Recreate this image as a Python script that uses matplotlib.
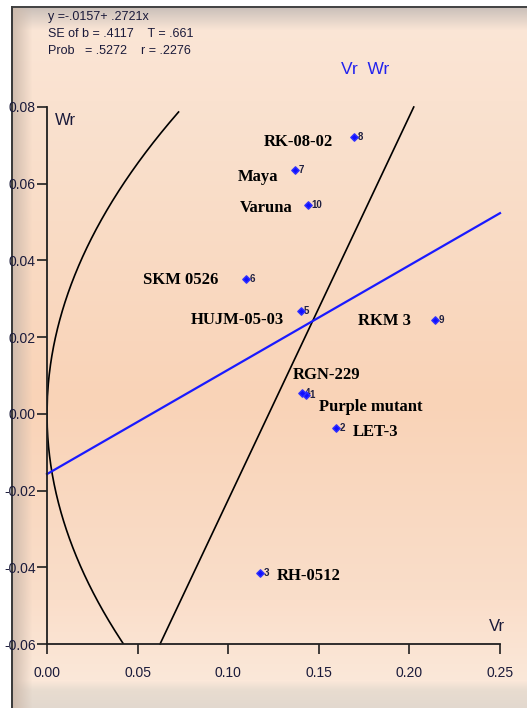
import numpy as np
import matplotlib
matplotlib.use("Agg")
import matplotlib.pyplot as plt

# Vr / Wr values for each parent (array numbers 1..10)
parent_no = [1, 2, 3, 4, 5, 6, 7, 8, 9, 10]
parent_name = ["Purple mutant", "LET-3", "RH-0512", "RGN-229", "HUJM-05-03",
               "SKM 0526", "Maya", "RK-08-02", "RKM 3", "Varuna"]
vr = [0.143, 0.1595, 0.1175, 0.1405, 0.140, 0.110, 0.1369, 0.1694, 0.214, 0.144]
wr = [0.0050, -0.0037, -0.0415, 0.0055, 0.0269, 0.0352, 0.0636, 0.0722, 0.0245, 0.0545]

# regression Wr on Vr
intercept = -0.0157
slope = 0.2721
se_b = 0.4117
t_val = 0.661
prob = 0.5272
r_val = 0.2276

# limiting parabola Wr^2 = Vr * Vp and unit-slope line
vp = 0.0853
line_c = -0.1224

sans = ["Liberation Sans", "DejaVu Sans"]
serif = ["Liberation Serif", "DejaVu Serif"]
ink = "#1a1a3a"

# label placement (offset in points from the point)
name_off = [(9, -9, "left"), (12, -3, "left"), (12, -2, "left"), (-6, 13, "left"),
            (-12, -7, "right"), (-20, -1, "right"), (-12, -5, "right"),
            (-15, -4, "right"), (-17, -1, "right"), (-11, -2, "right")]

W, H = 527, 708
fig = plt.figure(figsize=(W / 100, H / 100), dpi=100)

# panel background
yy = np.arange(H)
keys_y = [0, 100, 400, 600, 680, 690, 708]
keys_c = np.array([(251, 231, 216), (250, 226, 208), (249, 211, 183),
                   (250, 222, 202), (251, 232, 217), (232, 220, 208), (226, 216, 206)], float)
col = np.stack([np.interp(yy, keys_y, keys_c[:, k]) for k in range(3)], axis=1)
img = np.repeat(col[:, None, :], W, axis=1)
# top shading
for y in range(6, 30):
    t = (y - 6) / 24
    img[y] = img[y] * t + np.array([200, 190, 184]) * (1 - t)
# left shading
for x in range(11, 32):
    t = (x - 11) / 21
    img[:, x] = img[:, x] * t + np.array([205, 186, 172]) * (1 - t)
img[:6, :] = 255
img[:, :11] = 255
img[6:8, 11:] = (70, 70, 70)
img[6:, 11:13] = (60, 60, 60)
bg = fig.add_axes([0, 0, 1, 1], zorder=0)
bg.imshow(img.astype(np.uint8), aspect="auto", interpolation="bilinear")
bg.axis("off")

ax = fig.add_axes([47 / W, 1 - 644 / H, 453 / W, 537 / H], zorder=1)
ax.set_facecolor("none")
ax.set_xlim(0, 0.25)
ax.set_ylim(-0.06, 0.08)
ax.spines["top"].set_visible(False)
ax.spines["right"].set_visible(False)
for s in ("left", "bottom"):
    ax.spines[s].set_linewidth(1.3)
    ax.spines[s].set_color("#202020")
ax.set_xticks([0.0, 0.05, 0.10, 0.15, 0.20, 0.25])
ax.set_yticks([-0.06, -0.04, -0.02, 0.0, 0.02, 0.04, 0.06, 0.08])
ax.set_xticklabels(["0.00", "0.05", "0.10", "0.15", "0.20", "0.25"])
ax.set_yticklabels(["-0.06", "-0.04", "-0.02", "0.00", "0.02", "0.04", "0.06", "0.08"])
ax.tick_params(direction="out", length=7, width=1.2, color="#202020",
               labelsize=10, labelcolor=ink, pad=1)
ax.tick_params(axis="x", pad=9)
for lab in ax.get_xticklabels() + ax.get_yticklabels():
    lab.set_fontfamily(sans)

# parabola
v_up = np.linspace(0, 0.0787 ** 2 / vp, 300)
ax.plot(v_up, np.sqrt(v_up * vp), color="black", lw=1.2)
v_dn = np.linspace(0, 0.06 ** 2 / vp, 300)
ax.plot(v_dn, -np.sqrt(v_dn * vp), color="black", lw=1.2)

# unit-slope line
lx = np.array([-0.06 - line_c, 0.08 - line_c])
ax.plot(lx, lx + line_c, color="black", lw=1.2, clip_on=False)

# regression line
rx = np.array([0.0, 0.25])
ax.plot(rx, intercept + slope * rx, color="#1a1aff", lw=1.6, clip_on=False)

# parents
ax.scatter(vr, wr, marker="D", s=14, color="#1010ff", edgecolor="#3030ff", zorder=5)
for n, name, x, y, (dx, dy, ha) in zip(parent_no, parent_name, vr, wr, name_off):
    ax.annotate(str(n), (x, y), xytext=(2.5, 0), textcoords="offset points",
                ha="left", va="center", fontsize=7, color="#202040",
                fontweight="bold", family=sans)
    ax.annotate(name, (x, y), xytext=(dx, dy), textcoords="offset points",
                ha=ha, va="center", fontsize=12, fontweight="bold",
                family=serif, color="black")

ax.text(0.0045, 0.0765, "Wr", fontsize=12, color=ink, va="center", family=sans)
ax.text(0.2485, -0.0555, "Vr", fontsize=12, color=ink,
        ha="center", va="center", family=sans)

fig.text(365 / W, 1 - 70 / H, "Vr  Wr", fontsize=12.5, color="#2222ee",
         ha="center", va="center", family=sans)

stats = [f"y =-{abs(intercept):.4f}".replace("0.", ".") + f"+ {slope:.4f}x".replace("0.", "."),
         f"SE of b = {se_b:.4f}".replace("0.", ".") + f"    T = {t_val:.3f}".replace("0.", "."),
         f"Prob   = {prob:.4f}".replace("0.", ".") + f"    r = {r_val:.4f}".replace("0.", ".")]
for i, s in enumerate(stats):
    fig.text(48 / W, 1 - (17 + 17 * i) / H, s, fontsize=9, color=ink,
             ha="left", va="center", family=sans)

fig.savefig("out.png", dpi=100)
